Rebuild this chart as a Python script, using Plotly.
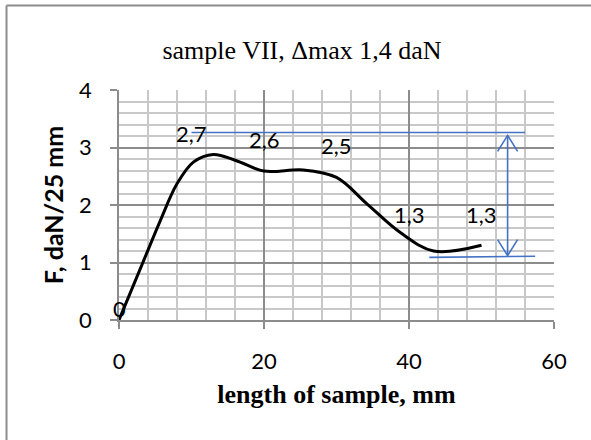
import plotly.graph_objects as go

# curve (length mm, force daN/25mm)
curve_x = [0, 3, 5.7, 8, 10.3, 13, 16.2, 20, 25.4, 30, 34.2, 38.8, 43.4, 50]
curve_y = [0, 0.91, 1.73, 2.37, 2.75, 2.88, 2.77, 2.59, 2.61, 2.48, 2.02, 1.52, 1.2, 1.3]

# data labels
label_x = [0, 10, 20, 30, 40, 50]
label_vals = [0, 2.7, 2.6, 2.5, 1.3, 1.3]
label_text = ["0", "2,7", "2,6", "2,5", "1,3", "1,3"]

# Δmax markers
upper_level = 3.26
upper_from, upper_to = 10, 56
lower_from, lower_to = 42.8, 57.4
lower_left, lower_right = 1.09, 1.11
arrow_x = 53.6
arrow_top, arrow_bot = 3.21, 1.12

title = "sample VII, Δmax 1,4 daN"
x_title = "length of sample, mm"
y_title = "F, daN/25 mm"

W, H = 591, 440
L, R, T, B = 119, 37, 90, 120
pw, ph = W - L - R, H - T - B
xr, yr = (0, 60), (0, 4)
ux = pw / (xr[1] - xr[0])
uy = ph / (yr[1] - yr[0])

blue = "#4472C4"
sans = "Lato"
serif = "Liberation Serif"

fig = go.Figure()
fig.add_trace(go.Scatter(x=curve_x, y=curve_y, mode="lines",
                         line=dict(color="black", width=3, shape="spline", smoothing=1.0),
                         hoverinfo="skip", showlegend=False))

for xv, yv, t in zip(label_x, label_vals, label_text):
    fig.add_annotation(x=xv, y=yv, text=t, showarrow=False,
                       yshift=(12 if yv == 0 else 31),
                       font=dict(family=sans, size=22, color="black"))

shapes = []
shapes.append(dict(type="line", xref="x", yref="y", x0=upper_from, x1=upper_to,
                   y0=upper_level, y1=upper_level, line=dict(color=blue, width=1.6)))
shapes.append(dict(type="line", xref="x", yref="y", x0=lower_from, x1=lower_to,
                   y0=lower_left, y1=lower_right, line=dict(color=blue, width=1.6)))
shapes.append(dict(type="line", xref="x", yref="y", x0=arrow_x, x1=arrow_x,
                   y0=arrow_top, y1=arrow_bot, line=dict(color=blue, width=1.6)))
hx = 10 / ux
hy = 16 / uy
shapes.append(dict(type="path", xref="x", yref="y",
                   path=f"M {arrow_x-hx},{arrow_top-hy} L {arrow_x},{arrow_top} L {arrow_x+hx},{arrow_top-hy}",
                   line=dict(color=blue, width=1.6)))
shapes.append(dict(type="path", xref="x", yref="y",
                   path=f"M {arrow_x-hx},{arrow_bot+hy} L {arrow_x},{arrow_bot} L {arrow_x+hx},{arrow_bot+hy}",
                   line=dict(color=blue, width=1.6)))

# outer frame (only top and left visible)
fx = (6.5 - L) / pw
fy = (H - B - 5.5) / ph
shapes.append(dict(type="line", xref="paper", yref="paper", x0=fx, x1=(W - L + 5) / pw,
                   y0=fy, y1=fy, line=dict(color="#8c8c8c", width=2)))
shapes.append(dict(type="line", xref="paper", yref="paper", x0=fx, x1=fx,
                   y0=fy, y1=-(B + 5) / ph, line=dict(color="#8c8c8c", width=2)))

fig.update_layout(
    width=W, height=H,
    margin=dict(l=L, r=R, t=T, b=B),
    paper_bgcolor="white", plot_bgcolor="white",
    showlegend=False,
    shapes=shapes,
    title=dict(text=title, x=302 / W, xanchor="center", y=1 - 50 / H, yanchor="middle",
               font=dict(family=serif, size=26, color="black")),
    xaxis=dict(range=list(xr), dtick=20, tick0=0,
               showgrid=True, gridcolor="#8c8c8c", gridwidth=1.5,
               minor=dict(dtick=4, showgrid=True, gridcolor="#c8c8c8", gridwidth=1.5,
                          ticks=""),
               showline=True, linecolor="#8c8c8c", linewidth=1.5,
               ticks="outside", ticklen=7, tickcolor="#8c8c8c", tickwidth=1.5,
               ticklabelstandoff=14,
               tickfont=dict(family=sans, size=22, color="black"),
               zeroline=False,
               title=dict(text="<b>" + x_title + "</b>", standoff=12,
                          font=dict(family=serif, size=26, color="black"))),
    yaxis=dict(range=list(yr), dtick=1, tick0=0,
               showgrid=True, gridcolor="#8c8c8c", gridwidth=1.5,
               minor=dict(dtick=0.2, showgrid=True, gridcolor="#c8c8c8", gridwidth=1.5,
                          ticks=""),
               showline=True, linecolor="#8c8c8c", linewidth=1.5,
               ticks="outside", ticklen=7, tickcolor="#8c8c8c", tickwidth=1.5,
               ticklabelstandoff=14,
               tickfont=dict(family=sans, size=22, color="black"),
               zeroline=False,
               title=dict(text="<b>" + y_title + "</b>", standoff=8,
                          font=dict(family=sans, size=25, color="black"))),
)

fig.write_html("out.html", config={"displayModeBar": False},
               post_script=("document.body.style.margin='0';"
                            "document.body.style.overflow='hidden';"
                            "document.documentElement.style.overflow='hidden';"))
